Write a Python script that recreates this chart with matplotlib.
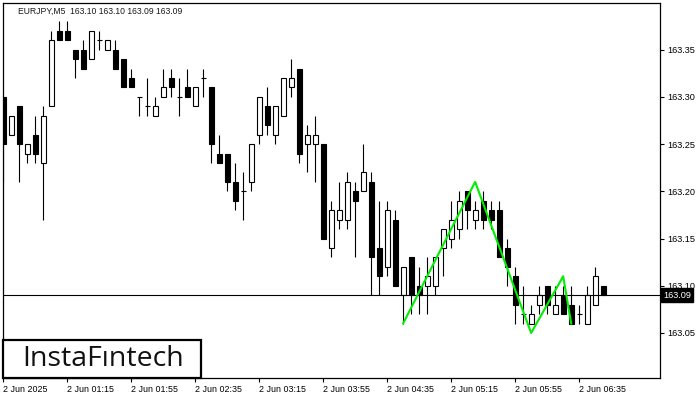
import numpy as np
import matplotlib
matplotlib.use('Agg')
import matplotlib.pyplot as plt
from matplotlib.patches import Rectangle
import matplotlib.transforms as mtransforms

plt.rcParams['font.family'] = ['Liberation Sans', 'DejaVu Sans']

# EURJPY M5 candles, 2 Jun 2025 from 00:35
opens = [163.30, 163.26, 163.29, 163.24, 163.26, 163.23, 163.29, 163.37, 163.37, 163.35,
         163.35, 163.34, 163.36, 163.35, 163.35, 163.34, 163.32, 163.30, 163.29, 163.28,
         163.30, 163.32, 163.30, 163.31, 163.29, 163.32, 163.31, 163.24, 163.24, 163.21,
         163.20, 163.21, 163.26, 163.29, 163.26, 163.28, 163.31, 163.33, 163.25, 163.25,
         163.25, 163.14, 163.17, 163.17, 163.20, 163.20, 163.21, 163.14, 163.12, 163.17,
         163.09, 163.13, 163.10, 163.10, 163.10, 163.14, 163.15, 163.16, 163.20, 163.17,
         163.19, 163.18, 163.18, 163.14, 163.11, 163.07, 163.06, 163.08, 163.10, 163.07,
         163.09, 163.08, 163.07, 163.06, 163.08, 163.10]
highs = [163.30, 163.28, 163.29, 163.25, 163.28, 163.29, 163.37, 163.38, 163.38, 163.35,
         163.36, 163.37, 163.37, 163.36, 163.36, 163.34, 163.33, 163.30, 163.32, 163.30,
         163.33, 163.33, 163.32, 163.33, 163.31, 163.33, 163.31, 163.26, 163.24, 163.23,
         163.22, 163.25, 163.30, 163.31, 163.29, 163.32, 163.34, 163.33, 163.27, 163.28,
         163.25, 163.19, 163.21, 163.22, 163.21, 163.25, 163.22, 163.19, 163.19, 163.18,
         163.12, 163.13, 163.12, 163.13, 163.13, 163.16, 163.19, 163.20, 163.20, 163.19,
         163.20, 163.19, 163.19, 163.15, 163.12, 163.10, 163.08, 163.10, 163.10, 163.10,
         163.10, 163.10, 163.08, 163.10, 163.12, 163.10]
lows = [163.21, 163.26, 163.21, 163.23, 163.23, 163.17, 163.29, 163.36, 163.36, 163.32,
        163.33, 163.34, 163.35, 163.35, 163.33, 163.31, 163.31, 163.28, 163.28, 163.28,
        163.30, 163.30, 163.28, 163.30, 163.29, 163.30, 163.23, 163.23, 163.20, 163.18,
        163.17, 163.20, 163.25, 163.26, 163.25, 163.28, 163.30, 163.23, 163.22, 163.21,
        163.15, 163.13, 163.16, 163.16, 163.13, 163.20, 163.09, 163.09, 163.11, 163.10,
        163.06, 163.07, 163.07, 163.07, 163.09, 163.11, 163.14, 163.15, 163.16, 163.16,
        163.16, 163.16, 163.13, 163.10, 163.06, 163.06, 163.06, 163.07, 163.07, 163.07,
        163.07, 163.06, 163.06, 163.06, 163.08, 163.09]
closes = [163.25, 163.28, 163.25, 163.25, 163.24, 163.28, 163.36, 163.36, 163.36, 163.34,
          163.33, 163.37, 163.36, 163.36, 163.33, 163.31, 163.31, 163.30, 163.29, 163.29,
          163.31, 163.31, 163.30, 163.30, 163.31, 163.32, 163.25, 163.23, 163.21, 163.19,
          163.20, 163.25, 163.30, 163.27, 163.29, 163.32, 163.32, 163.24, 163.26, 163.26,
          163.15, 163.18, 163.18, 163.21, 163.19, 163.22, 163.13, 163.11, 163.18, 163.10,
          163.12, 163.09, 163.09, 163.11, 163.13, 163.16, 163.17, 163.19, 163.18, 163.18,
          163.17, 163.17, 163.13, 163.12, 163.08, 163.07, 163.07, 163.09, 163.08, 163.08,
          163.07, 163.06, 163.07, 163.09, 163.11, 163.09]

time_labels = ['2 Jun 2025', '2 Jun 01:15', '2 Jun 01:55', '2 Jun 02:35', '2 Jun 03:15',
               '2 Jun 03:55', '2 Jun 04:35', '2 Jun 05:15', '2 Jun 05:55', '2 Jun 06:35']
label_step = 8

price_ticks = [163.05, 163.10, 163.15, 163.20, 163.25, 163.30, 163.35]
last_price = 163.09

# triple top / bottom pattern drawn by the service
pattern_idx = [50, 59, 66, 70, 71]
pattern_price = [163.06, 163.21, 163.05, 163.11, 163.06]

title = 'EURJPY,M5  163.10 163.10 163.09 163.09'

fig = plt.figure(figsize=(7, 4), dpi=100)
ax = fig.add_axes([3 / 700, 22 / 400, 657 / 700, 375 / 400])

x = np.arange(len(opens))
o = np.array(opens)
c = np.array(closes)
h = np.array(highs)
l = np.array(lows)
bw = 0.625

ax.vlines(x, l, h, color='black', linewidth=0.8, zorder=2)
up = c > o
down = c < o
flat = c == o
ax.bar(x[up], (c - o)[up], bottom=o[up], width=bw, color='white',
       edgecolor='black', linewidth=0.8, zorder=3)
ax.bar(x[down], (o - c)[down], bottom=c[down], width=bw, color='black',
       edgecolor='black', linewidth=0.8, zorder=3)
ax.hlines(o[flat], x[flat] - bw / 2, x[flat] + bw / 2, color='black', linewidth=0.8, zorder=3)

ax.plot(pattern_idx, pattern_price, color='#00ee00', linewidth=1.5, zorder=4)

ax.axhline(last_price, color='black', linewidth=0.8, zorder=3)

ax.set_xlim(0, 82.1)
ax.set_ylim(163.0023, 163.3995)

ax.yaxis.tick_right()
ax.set_yticks(price_ticks)
ax.set_yticklabels(['%.2f' % p for p in price_ticks])
ax.set_xticks(np.arange(len(time_labels)) * label_step)
ax.set_xticklabels(time_labels)
for lab in ax.get_xticklabels():
    lab.set_ha('left')
ax.tick_params(axis='y', direction='out', length=3, width=0.8, pad=2, labelsize=6.6)
ax.tick_params(axis='x', direction='out', length=3, width=0.8, pad=2, labelsize=6.4)
for s in ax.spines.values():
    s.set_linewidth(0.9)

ax.text(15 / 657, 0.979, title, transform=ax.transAxes, fontsize=6.2,
        ha='left', va='center', color='#1a1a1a')

# current price marker on the scale
trans = mtransforms.blended_transform_factory(ax.transAxes, ax.transData)
ax.text(1.0 + 3 / 657, last_price, '%.2f' % last_price, transform=trans, fontsize=6.6,
        ha='left', va='center', color='white', clip_on=False, zorder=10,
        bbox=dict(boxstyle='square,pad=0.25', facecolor='black', edgecolor='black'))

# logo
ax.add_patch(Rectangle((0, 0), 198 / 657, 38 / 375, transform=ax.transAxes,
                       facecolor='white', edgecolor='black', linewidth=1.6, zorder=6,
                       clip_on=False))
ax.text(100 / 657, 19 / 375, 'InstaF\u0131ntech', transform=ax.transAxes, fontsize=20.5,
        family=['Open Sans', 'DejaVu Sans'], ha='center', va='center', color='#111111', zorder=7)

fig.savefig('out.png', dpi=100)
